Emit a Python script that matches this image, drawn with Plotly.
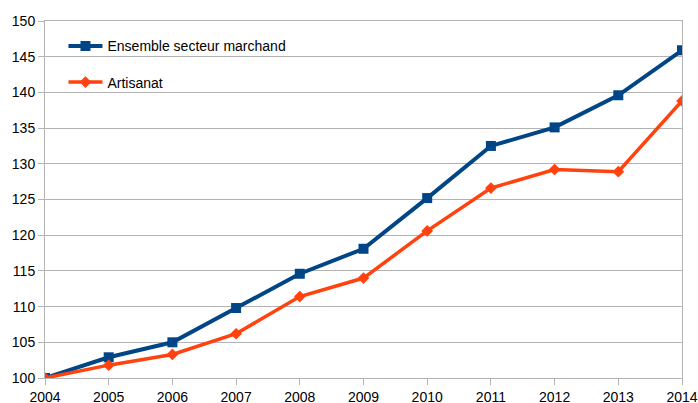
import plotly.graph_objects as go

years = [2004, 2005, 2006, 2007, 2008, 2009, 2010, 2011, 2012, 2013, 2014]
ensemble = [100.0, 102.9, 105.0, 109.8, 114.6, 118.1, 125.2, 132.5, 135.1, 139.6, 145.9]
artisanat = [100.0, 101.8, 103.3, 106.2, 111.4, 114.0, 120.6, 126.6, 129.2, 128.9, 138.8]

BLUE = "#004586"
ORANGE = "#ff420e"
GRID = "#b3b3b3"
FONT = "Liberation Sans, Arial, sans-serif"

fig = go.Figure()
fig.add_trace(go.Scatter(
    x=years, y=ensemble, name="Ensemble secteur marchand",
    mode="lines+markers", legendgroup="a",
    line=dict(color=BLUE, width=4),
    marker=dict(symbol="square", size=10, color=BLUE),
))
fig.add_trace(go.Scatter(
    x=years, y=artisanat, name="Artisanat",
    mode="lines+markers", legendgroup="b",
    line=dict(color=ORANGE, width=3.5),
    marker=dict(symbol="diamond", size=9, color=ORANGE),
))

fig.update_layout(
    width=698, height=403,
    margin=dict(l=45, r=16, t=21, b=25),
    paper_bgcolor="white", plot_bgcolor="white",
    font=dict(family=FONT, size=14, color="black"),
    legend=dict(
        x=0.029, y=0.974, xanchor="left", yanchor="top",
        bgcolor="rgba(0,0,0,0)", tracegroupgap=15, itemwidth=34,
        font=dict(family=FONT, size=14),
    ),
    xaxis=dict(
        range=[2004, 2014], tickmode="array", tickvals=years,
        showgrid=False, showline=True, linecolor=GRID, linewidth=1, mirror=True,
        ticks="outside", ticklen=6, tickcolor=GRID, automargin=False,
        tickfont=dict(size=14), zeroline=False,
    ),
    yaxis=dict(
        range=[100, 150], dtick=5,
        showgrid=True, gridcolor=GRID, gridwidth=1,
        showline=True, linecolor=GRID, linewidth=1, mirror=True,
        ticks="outside", ticklen=6, tickcolor=GRID, automargin=False,
        tickfont=dict(size=14), zeroline=False,
    ),
)

# drop the default page margin so the figure sits at the window's corner
fig.write_html(
    "out.html",
    config={"displayModeBar": False},
    post_script="document.body.style.margin='0';document.body.style.overflow='hidden';",
)
